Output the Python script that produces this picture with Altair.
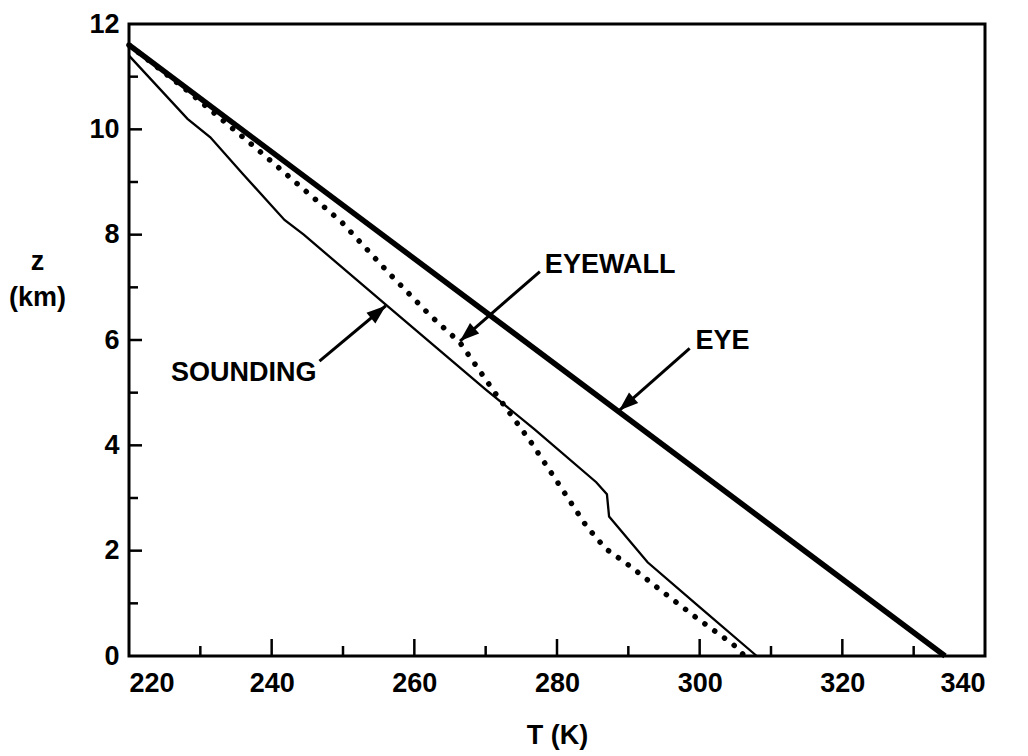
import math
import altair as alt
import pandas as pd

# Temperature profiles, T in kelvin against height z in km
eye_T = [220.0, 334.4]
eye_z = [11.6, 0.0]

sounding_T = [220.0, 228.2, 231.4, 235.9, 241.8, 244.5, 256.0, 270.1, 276.9,
              285.5, 287.0, 287.3, 292.7, 300.0, 308.0]
sounding_z = [11.4, 10.2, 9.85, 9.16, 8.28, 8.0, 6.67, 5.05, 4.3,
              3.3, 3.07, 2.65, 1.78, 0.93, 0.0]

eyewall_T = [220.0, 228.3, 237.4, 249.8, 256.5, 262.2, 266.4, 271.5, 276.2,
             280.8, 284.1, 286.8, 290.1, 294.8, 299.6, 304.7, 306.3]
eyewall_z = [11.6, 10.72, 9.69, 8.24, 7.26, 6.47, 5.95, 4.96, 4.09,
             3.15, 2.47, 2.04, 1.72, 1.22, 0.72, 0.22, 0.0]

# Annotations: label text, label anchor, arrow tail and arrow tip (T, z)
ann_text = ["EYEWALL", "EYE", "SOUNDING"]
ann_T = [278.3, 299.4, 225.9]
ann_z = [7.28, 5.82, 5.22]
tail_T = [277.6, 298.6, 246.7]
tail_z = [7.30, 5.84, 5.60]
tip_T = [266.4, 288.7, 256.0]
tip_z = [5.98, 4.66, 6.65]

x_ticks = [220, 240, 260, 280, 300, 320, 340]
x_major_inner = [240, 260, 280, 300, 320]
x_minor_inner = [230, 250, 270, 290, 310, 330]
z_ticks = [0, 2, 4, 6, 8, 10, 12]
z_major_inner = [2, 4, 6, 8, 10]
z_minor_inner = [1, 3, 5, 7, 9, 11]

W, H = 856, 632
T_MIN, T_MAX = 220, 340
Z_MIN, Z_MAX = 0, 12
FONT = "Liberation Sans, Arial, sans-serif"
FS = 27

xs = alt.Scale(domain=[T_MIN, T_MAX], nice=False, zero=False)
ys = alt.Scale(domain=[Z_MIN, Z_MAX], nice=False, zero=False)

x_axis = alt.Axis(values=x_ticks, title="T (K)", labelFontSize=FS, titleFontSize=FS,
                  labelFont=FONT, titleFont=FONT, labelFontWeight="bold",
                  titleFontWeight="bold", labelPadding=14, titlePadding=26,
                  domain=False, ticks=False, grid=False, labelColor="black",
                  titleColor="black")
y_axis = alt.Axis(values=z_ticks, title=["z", "(km)"], labelFontSize=FS,
                  titleFontSize=FS, labelFont=FONT, titleFont=FONT,
                  labelFontWeight="bold", titleFontWeight="bold", labelPadding=10,
                  titleAngle=0, titleAlign="center", titleBaseline="top",
                  titleX=-92, titleY=224, titleLineHeight=36,
                  domain=False, ticks=False, grid=False, labelColor="black",
                  titleColor="black")

eye_df = pd.DataFrame({"T": eye_T, "z": eye_z})
snd_df = pd.DataFrame({"T": sounding_T, "z": sounding_z, "o": range(len(sounding_T))})
ew_df = pd.DataFrame({"T": eyewall_T, "z": eyewall_z, "o": range(len(eyewall_T))})

eye = alt.Chart(eye_df).mark_line(color="black", strokeWidth=5.5).encode(
    x=alt.X("T:Q", scale=xs, axis=x_axis),
    y=alt.Y("z:Q", scale=ys, axis=y_axis),
)
sounding = alt.Chart(snd_df).mark_line(color="black", strokeWidth=2.3).encode(
    x=alt.X("T:Q", scale=xs), y=alt.Y("z:Q", scale=ys), order="o:Q"
)
eyewall = alt.Chart(ew_df).mark_line(
    color="black", strokeWidth=5.5, strokeDash=[0.1, 12], strokeCap="round"
).encode(x=alt.X("T:Q", scale=xs), y=alt.Y("z:Q", scale=ys), order="o:Q")

# Inward tick marks on the bottom and left edges
xmaj = alt.Chart(pd.DataFrame({"T": x_major_inner})).mark_rule(
    color="black", strokeWidth=2.5).encode(
    x=alt.X("T:Q", scale=xs), y=alt.value(H), y2=alt.value(H - 17))
xmin = alt.Chart(pd.DataFrame({"T": x_minor_inner})).mark_rule(
    color="black", strokeWidth=2.5).encode(
    x=alt.X("T:Q", scale=xs), y=alt.value(H), y2=alt.value(H - 10))
zmaj = alt.Chart(pd.DataFrame({"z": z_major_inner})).mark_rule(
    color="black", strokeWidth=2.5).encode(
    y=alt.Y("z:Q", scale=ys), x=alt.value(0), x2=alt.value(13))
zmin = alt.Chart(pd.DataFrame({"z": z_minor_inner})).mark_rule(
    color="black", strokeWidth=2.5).encode(
    y=alt.Y("z:Q", scale=ys), x=alt.value(0), x2=alt.value(9))

# Arrow heads point along the tail -> tip direction in screen space
angles = []
for t0, z0, t1, z1 in zip(tail_T, tail_z, tip_T, tip_z):
    dx = (t1 - t0) * W / (T_MAX - T_MIN)
    dy = -(z1 - z0) * H / (Z_MAX - Z_MIN)
    angles.append(math.degrees(math.atan2(dx, -dy)) % 360)

ann_df = pd.DataFrame({
    "label": ann_text, "T": ann_T, "z": ann_z,
    "t0": tail_T, "z0": tail_z, "t1": tip_T, "z1": tip_z, "ang": angles,
})

shafts = alt.Chart(ann_df).mark_rule(color="black", strokeWidth=3).encode(
    x=alt.X("t0:Q", scale=xs), y=alt.Y("z0:Q", scale=ys), x2="t1:Q", y2="z1:Q")
heads = alt.Chart(ann_df).mark_point(
    shape="M0,0L-0.36,1L0.36,1Z", filled=True, color="black", opacity=1,
    size=1500, strokeWidth=0).encode(
    x=alt.X("t1:Q", scale=xs), y=alt.Y("z1:Q", scale=ys),
    angle=alt.Angle("ang:Q", scale=None))
labels = alt.Chart(ann_df).mark_text(
    align="left", baseline="alphabetic", font=FONT, fontSize=FS,
    fontWeight="bold", color="black").encode(
    x=alt.X("T:Q", scale=xs), y=alt.Y("z:Q", scale=ys), text="label:N")

chart = alt.layer(
    eye, sounding, eyewall, xmaj, xmin, zmaj, zmin, shafts, heads, labels
).properties(
    width=W, height=H,
    background="white",
    padding={"left": 129, "top": 24, "right": 43, "bottom": 100},
    autosize=alt.AutoSizeParams(type="none"),
).configure_view(
    stroke="black", strokeWidth=3
)

chart.save("out.html", embed_options={"renderer": "svg", "actions": False})
